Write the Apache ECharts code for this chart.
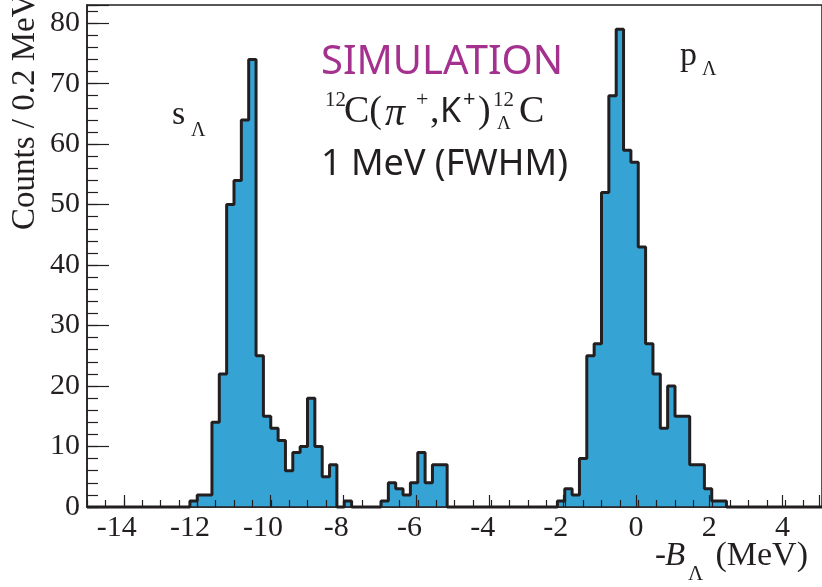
<!DOCTYPE html>
<html>
<head>
<meta charset="utf-8">
<script src="https://cdn.jsdelivr.net/npm/echarts@6/dist/echarts.min.js"></script>
<style>
  html, body { margin: 0; padding: 0; background: #fff; }
  #chart { width: 822px; height: 587px; }
</style>
</head>
<body>
<div id="chart"></div>
<script>
// 0.2 MeV bins, -15 .. 5 MeV
const binStart = -15;
const binWidth = 0.2;
const counts = [
  0, 0, 0, 0, 0, 0, 0, 0, 0, 0,        // -15.0 .. -13.2
  0, 0, 0, 0, 1, 2, 2, 14, 22, 50,     // -13.0 .. -11.2
  54, 64, 74, 25, 15, 13, 11, 6, 9, 10, // -11.0 .. -9.2
  18, 10, 5, 7, 0, 1, 0, 0, 0, 0,      // -9.0 .. -7.2
  1, 4, 3, 2, 4, 9, 4, 7, 7, 0,        // -7.0 .. -5.2
  0, 0, 0, 0, 0, 0, 0, 0, 0, 0,        // -5.0 .. -3.2
  0, 0, 0, 0, 1, 3, 2, 8, 25, 27,      // -3.0 .. -1.2
  52, 68, 79, 59, 57, 43, 27, 22, 13, 20, // -1.0 .. 0.8
  15, 15, 7, 7, 3, 1, 1, 0, 0, 0,      // 1.0 .. 2.8
  0, 0, 0, 0, 0, 0, 0, 0, 0, 0         // 3.0 .. 4.8
];
const xTicks = [-14, -12, -10, -8, -6, -4, -2, 0, 2, 4];

const INK = '#231f20';
const SERIF = '"Liberation Serif", "DejaVu Serif", serif';
const SANS = '"Noto Sans", "Open Sans", sans-serif';

// step points at bin left edges + closing edge
const histData = counts.map((c, i) => [+(binStart + i * binWidth).toFixed(1), c]);
histData.push([+(binStart + counts.length * binWidth).toFixed(1), counts[counts.length - 1]]);

const chart = echarts.init(document.getElementById('chart'), null, { renderer: 'canvas' });

function txt(text, x, y, font, opts) {
  return {
    type: 'text', x: x, y: y, z: 50,
    style: Object.assign({
      text: text, font: font, fill: INK,
      align: 'left', verticalAlign: 'middle',
      textAlign: 'left', textVerticalAlign: 'middle'
    }, opts || {})
  };
}

const option = {
  animation: false,
  backgroundColor: '#fff',
  grid: [
    { left: 87, right: 0, top: 5, bottom: 80, show: true, borderColor: INK, borderWidth: 1.5, backgroundColor: 'transparent' },
    { left: 87 + 735 / 20, right: 0, top: 5, bottom: 80, show: false }
  ],
  xAxis: [
    {
      gridIndex: 0, type: 'value', position: 'bottom', min: -15, max: 5, interval: 0.5, z: 6,
      axisLine: { show: true, onZero: false, lineStyle: { color: INK, width: 1.5 } },
      axisTick: { inside: true, length: 7, lineStyle: { color: INK, width: 1.2 } },
      axisLabel: { show: false },
      splitLine: { show: false }
    },
    {
      gridIndex: 1, type: 'value', position: 'bottom', min: xTicks[0], max: 5, interval: 2, z: 6,
      axisLine: { show: false, onZero: false },
      axisTick: { inside: true, length: 12, lineStyle: { color: INK, width: 1.2 } },
      axisLabel: {
        margin: 6, color: INK, fontFamily: SERIF, fontSize: 30,
        formatter: v => (xTicks.indexOf(v) < 0 ? '' : (v < 0 ? '{n|' + v + '}' : String(v))),
        rich: { n: { fontFamily: SERIF, fontSize: 30, color: INK, padding: [0, 14, 0, 0] } }
      },
      splitLine: { show: false }
    }
  ],
  yAxis: [
    {
      gridIndex: 0, type: 'value', position: 'left', min: 0, max: 83, interval: 10, z: 6,
      axisLine: { show: true, onZero: false, lineStyle: { color: INK, width: 1.5 } },
      axisTick: { inside: true, length: 22, lineStyle: { color: INK, width: 1.2 } },
      axisLabel: {
        margin: 7, color: INK, fontFamily: SERIF, fontSize: 30,
        formatter: v => (v % 10 === 0 ? String(v) : '')
      },
      splitLine: { show: false }
    },
    {
      gridIndex: 0, type: 'value', position: 'left', min: 0, max: 83, interval: 2, z: 6,
      axisLine: { show: false, onZero: false },
      axisTick: { inside: true, length: 11, lineStyle: { color: INK, width: 1.2 } },
      axisLabel: { show: false },
      splitLine: { show: false }
    },
    { gridIndex: 1, type: 'value', min: 0, max: 83, show: false, axisLine: { onZero: false } }
  ],
  series: [
    {
      type: 'line',
      xAxisIndex: 0, yAxisIndex: 0,
      step: 'end',
      symbol: 'none',
      clip: false,
      z: 3,
      lineStyle: { color: INK, width: 3 },
      areaStyle: { color: '#35a4d4', opacity: 1 },
      data: histData
    }
  ],
  graphic: [
    txt('SIMULATION', 321, 63, '40px ' + SANS, { fill: '#a4318e' }),
    // 12C(pi+,K+)12_Lambda C
    txt('12', 325, 100, '21px ' + SERIF),
    txt('C(', 344, 112, '38px ' + SERIF),
    txt('\u03c0', 385, 114, 'italic 40px ' + SERIF),
    txt('+', 416, 100, '22px ' + SERIF),
    txt(',', 430, 112, '38px ' + SERIF),
    txt('K', 440, 112, '34px ' + SANS),
    txt('+', 463, 100, '22px ' + SANS),
    txt(')', 478, 112, '38px ' + SERIF),
    txt('12', 493, 100, '21px ' + SERIF),
    txt('\u039b', 497, 124, '19px ' + SERIF),
    txt('C', 519, 112, '38px ' + SERIF),
    txt('1 MeV (FWHM)', 321, 165, '36px ' + SANS),
    // peak labels
    txt('s', 172, 115, '34px ' + SERIF),
    txt('\u039b', 191, 131, '20px ' + SERIF),
    txt('p', 680, 56, '34px ' + SERIF),
    txt('\u039b', 702, 70, '20px ' + SERIF),
    // x axis title
    txt('-', 655, 556, '33px ' + SERIF),
    txt('B', 665, 556, 'italic 33px ' + SERIF),
    txt('\u039b', 688, 574, '21px ' + SERIF),
    txt('(MeV)', 808, 556, '34px ' + SERIF, { align: 'right', textAlign: 'right' }),
    // y axis title (reads bottom to top)
    Object.assign(txt('Counts / 0.2 MeV', 25, 230, '33px ' + SERIF), { rotation: Math.PI / 2 })
  ]
};

chart.setOption(option);
</script>
</body>
</html>
